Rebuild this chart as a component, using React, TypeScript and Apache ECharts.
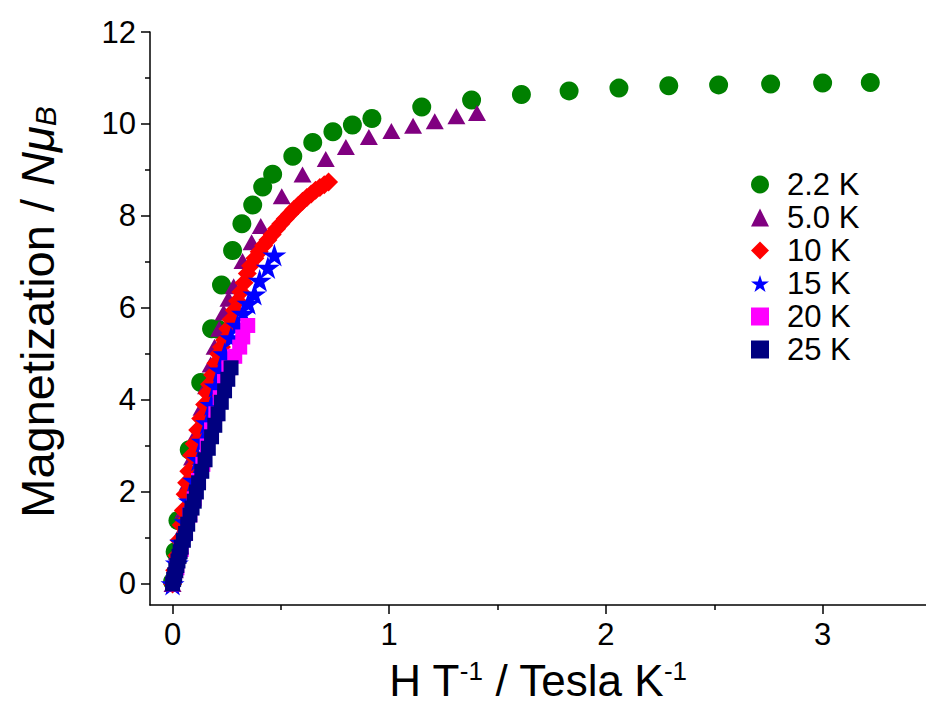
import React, { useEffect, useRef } from "react";
import * as echarts from "echarts";

// 2.2 K (green circles)
const t22: number[][] = [
  [0.0, 0.05], [0.012, 0.7], [0.025, 1.38], [0.077, 2.92], [0.13, 4.38], [0.18, 5.55], [0.21, 5.54],
  [0.226, 6.5], [0.277, 7.25], [0.32, 7.83], [0.37, 8.24], [0.416, 8.63], [0.462, 8.91],
  [0.555, 9.3], [0.647, 9.6], [0.74, 9.83], [0.83, 9.98], [0.92, 10.12], [1.15, 10.37],
  [1.38, 10.52], [1.61, 10.64], [1.83, 10.72], [2.06, 10.78], [2.29, 10.83], [2.52, 10.85],
  [2.76, 10.87], [3.0, 10.89], [3.22, 10.9],
];
// 5.0 K (purple triangles)
const t50: number[][] = [
  [0.0, 0.0], [0.01, 0.3], [0.02, 0.7], [0.035, 1.1], [0.05, 1.6], [0.07, 2.2], [0.09, 2.75],
  [0.111, 3.29], [0.134, 3.83], [0.155, 4.3], [0.176, 4.77], [0.194, 5.16], [0.215, 5.55],
  [0.236, 5.9], [0.258, 6.2], [0.282, 6.47], [0.323, 7.02], [0.365, 7.43], [0.407, 7.78],
  [0.504, 8.43], [0.6, 8.9], [0.707, 9.24], [0.8, 9.5], [0.906, 9.72], [1.01, 9.85],
  [1.11, 9.96], [1.21, 10.06], [1.31, 10.17], [1.405, 10.24],
];
// 10 K (red diamonds)
const t10: number[][] = [
  [0.0, 0.0], [0.01, 0.3], [0.02, 0.62], [0.03, 0.95], [0.04, 1.28], [0.05, 1.6], [0.058, 1.95],
  [0.065, 2.2], [0.075, 2.45], [0.088, 2.8], [0.1, 3.05], [0.116, 3.35], [0.13, 3.6],
  [0.148, 3.9], [0.16, 4.15], [0.171, 4.34], [0.185, 4.55], [0.2, 4.8], [0.213, 5.0],
  [0.226, 5.15], [0.24, 5.3], [0.255, 5.55], [0.27, 5.75], [0.285, 5.95], [0.3, 6.15],
  [0.315, 6.35], [0.33, 6.55], [0.345, 6.75], [0.36, 6.92], [0.38, 7.08], [0.4, 7.22],
  [0.42, 7.36], [0.44, 7.48], [0.46, 7.6], [0.48, 7.72], [0.5, 7.83], [0.52, 7.94],
  [0.54, 8.04], [0.56, 8.14], [0.58, 8.23], [0.6, 8.32], [0.62, 8.4], [0.64, 8.48],
  [0.66, 8.56], [0.68, 8.62], [0.7, 8.68], [0.72, 8.74],
];
// 15 K (blue stars)
const t15: number[][] = [
  [0.0, 0.0], [0.02, 0.45], [0.04, 0.9], [0.06, 1.35], [0.08, 1.8], [0.1, 2.25], [0.12, 2.7],
  [0.14, 3.1], [0.16, 3.5], [0.18, 3.9], [0.2, 4.3], [0.22, 4.65], [0.24, 5.0], [0.27, 5.35],
  [0.3, 5.62], [0.325, 5.88], [0.35, 6.1], [0.378, 6.3], [0.402, 6.6], [0.44, 6.88], [0.47, 7.15],
];
// 20 K (magenta squares)
const t20: number[][] = [
  [0.0, 0.0], [0.02, 0.35], [0.04, 0.75], [0.06, 1.1], [0.08, 1.5], [0.1, 1.85], [0.12, 2.25],
  [0.14, 2.6], [0.16, 3.0], [0.18, 3.35], [0.2, 3.7], [0.22, 4.05], [0.24, 4.4], [0.26, 4.7],
  [0.287, 4.95], [0.31, 5.15], [0.324, 5.37], [0.347, 5.62],
];
// 25 K (navy squares)
const t25: number[][] = [
  [0.0, 0.0], [0.005, 0.1], [0.01, 0.2], [0.015, 0.3], [0.02, 0.4], [0.025, 0.5], [0.03, 0.6],
  [0.035, 0.7], [0.04, 0.8], [0.05, 0.95], [0.06, 1.1], [0.07, 1.3], [0.08, 1.5], [0.09, 1.65],
  [0.1, 1.8], [0.11, 2.0], [0.12, 2.2], [0.135, 2.45], [0.15, 2.7], [0.165, 2.95], [0.18, 3.2],
  [0.195, 3.45], [0.21, 3.7], [0.225, 3.95], [0.24, 4.2], [0.255, 4.45], [0.27, 4.7],
];

const seriesNames = ["2.2 K", "5.0 K", "10 K", "15 K", "20 K", "25 K"];
const xMajorTicks = [0, 1, 2, 3];
const xMinorTicks = [0.5, 1.5, 2.5];
const yMajorTicks = [0, 2, 4, 6, 8, 10, 12];
const yMinorTicks = [1, 3, 5, 7, 9, 11];

const STAR =
  "path://M50,0 L61.2,34.5 L97.6,34.5 L68.2,55.9 L79.4,90.5 L50,69.1 L20.6,90.5 L31.8,55.9 L2.4,34.5 L38.8,34.5 Z";

const FONT = "Liberation Sans, Arial, sans-serif";

export default function App() {
  const ref = useRef<HTMLDivElement>(null);
  useEffect(() => {
    if (!ref.current) return;
    const chart = echarts.init(ref.current, null, { renderer: "svg" });
    const axisLine = { show: true, onZero: false, lineStyle: { color: "#000", width: 1.5 } };
    const xMin = -0.104;
    const xMax = 3.477;
    const yMin = -0.457;
    const yMax = 12;
    const mk = (name: string, data: number[][], symbol: string, size: any, color: string) => ({
      name,
      type: "scatter",
      data,
      symbol,
      symbolSize: size,
      symbolKeepAspect: true,
      itemStyle: { color, opacity: 1 },
      xAxisIndex: 0,
      yAxisIndex: 0,
    });
    const legendIcons: Record<string, string> = {
      "2.2 K": "circle",
      "5.0 K": "triangle",
      "10 K": "diamond",
      "15 K": STAR,
      "20 K": "rect",
      "25 K": "rect",
    };
    chart.setOption({
      animation: false,
      backgroundColor: "#fff",
      grid: { left: 150, top: 32, right: 0, bottom: 101, containLabel: false },
      xAxis: [
        {
          type: "value", min: xMin, max: xMax, position: "bottom",
          axisLine,
          splitLine: { show: false },
          axisTick: { show: true, length: 9, lineStyle: { color: "#000", width: 1.5 }, customValues: xMajorTicks },
          axisLabel: { customValues: xMajorTicks, fontSize: 31, color: "#000", fontFamily: FONT, margin: 14 },
        },
        {
          type: "value", min: xMin, max: xMax, position: "bottom",
          axisLine: { show: false, onZero: false },
          splitLine: { show: false },
          axisTick: { show: true, length: 5, lineStyle: { color: "#000", width: 1.5 }, customValues: xMinorTicks },
          axisLabel: { show: false },
        },
      ],
      yAxis: [
        {
          type: "value", min: yMin, max: yMax, position: "left",
          axisLine,
          splitLine: { show: false },
          axisTick: { show: true, length: 9, lineStyle: { color: "#000", width: 1.5 }, customValues: yMajorTicks },
          axisLabel: { customValues: yMajorTicks, fontSize: 31, color: "#000", fontFamily: FONT, margin: 14 },
        },
        {
          type: "value", min: yMin, max: yMax, position: "left",
          axisLine: { show: false, onZero: false },
          splitLine: { show: false },
          axisTick: { show: true, length: 5, lineStyle: { color: "#000", width: 1.5 }, customValues: yMinorTicks },
          axisLabel: { show: false },
        },
      ],
      legend: {
        orient: "vertical",
        left: 746,
        top: 164,
        itemWidth: 18,
        itemHeight: 18,
        itemGap: 2,
        textStyle: { fontSize: 31, color: "#000", fontFamily: FONT, padding: [0, 0, 0, 13] },
        data: seriesNames.map((n) => ({ name: n, icon: legendIcons[n] })),
      },
      graphic: [
        {
          type: "text",
          x: 538,
          y: 680,
          style: {
            text: "{a|H T}{s|-1}{a| / Tesla K}{s|-1}",
            align: "center",
            verticalAlign: "middle",
            rich: {
              a: { fontSize: 44, fontFamily: FONT, fill: "#000" },
              s: { fontSize: 26, fontFamily: FONT, fill: "#000", verticalAlign: "top" },
            },
          },
        },
        {
          type: "text",
          x: 37,
          y: 312,
          rotation: Math.PI / 2,
          style: {
            text: "{a|Magnetization / }{i|Nμ}{b|B}",
            align: "center",
            verticalAlign: "middle",
            rich: {
              a: { fontSize: 47, fontFamily: FONT, fill: "#000" },
              i: { fontSize: 47, fontFamily: FONT, fontStyle: "italic", fill: "#000" },
              b: { fontSize: 30, fontFamily: FONT, fontStyle: "italic", fill: "#000", verticalAlign: "bottom" },
            },
          },
        },
      ],
      series: [
        mk(seriesNames[0], t22, "circle", 19, "#008000"),
        mk(seriesNames[1], t50, "triangle", [18, 16], "#800080"),
        mk(seriesNames[2], t10, "diamond", 19, "#FF0000"),
        mk(seriesNames[3], t15, STAR, 24, "#0000FF"),
        mk(seriesNames[4], t20, "rect", 15, "#FF00FF"),
        mk(seriesNames[5], t25, "rect", 15, "#000080"),
      ],
    });
    return () => chart.dispose();
  }, []);
  return <div ref={ref} style={{ width: 926, height: 706, position: "absolute", left: 0, top: 0 }} />;
}
